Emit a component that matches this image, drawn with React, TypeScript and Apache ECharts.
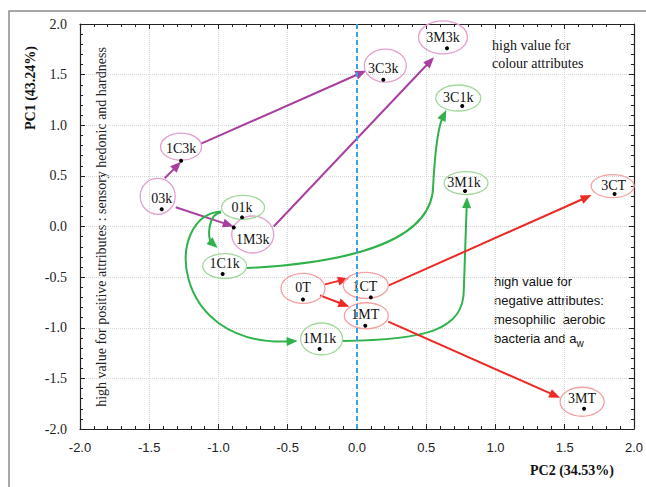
import React, { useEffect, useRef } from 'react';
import * as echarts from 'echarts';

// ---------- data ----------
const sampleNames = ['03k', '1C3k', '3C3k', '1M3k', '3M3k', '01k', '1C1k', '3C1k', '1M1k', '3M1k', '0T', '1CT', '3CT', '1MT', '3MT'];
const sampleGroups = ['3k', '3k', '3k', '3k', '3k', '1k', '1k', '1k', '1k', '1k', 'T', 'T', 'T', 'T', 'T'];
const pc2Scores = [-1.41, -1.27, 0.19, -0.89, 0.65, -0.83, -0.97, 0.76, -0.27, 0.78, -0.39, 0.10, 1.86, 0.06, 1.64];
const pc1Scores = [0.17, 0.65, 1.45, -0.01, 1.76, 0.09, -0.47, 1.19, -1.21, 0.35, -0.72, -0.70, 0.32, -0.98, -1.80];
const axisTickValues = [-2.0, -1.5, -1.0, -0.5, 0.0, 0.5, 1.0, 1.5, 2.0];
const arrowFrom = ['03k', '1C3k', '03k', '1M3k', '01k', '01k', '1C1k', '1M1k', '0T', '0T', '1CT', '1MT'];
const arrowTo = ['1C3k', '3C3k', '1M3k', '3M3k', '1C1k', '1M1k', '3C1k', '3M1k', '1CT', '1MT', '3CT', '3MT'];

// ---------- layout / style ----------
const groupColors: Record<string, { line: string; ring: string }> = {
  '3k': { line: '#a8409f', ring: '#e3a0cf' },
  '1k': { line: '#30b24a', ring: '#a3d89d' },
  T: { line: '#ee2a26', ring: '#f2a2a2' },
};
// label dx, dy, ellipse dx, dy, rx, ry (pixels, relative to the dot)
const labelLayout: Record<string, number[]> = {
  '03k': [0, -11, -4, -13, 17.5, 18],
  '1C3k': [0, -12, 0, -14, 20.5, 13.5],
  '3C3k': [0, -11, 2, -14, 21, 16.5],
  '1M3k': [19, 12, 19, 7, 21, 18.5],
  '3M3k': [-4, -11, -4, -11, 24.5, 16.5],
  '01k': [0, -10, 1, -10, 21.5, 12],
  '1C1k': [2, -11, 2, -8, 22, 12.5],
  '3C1k': [-4, -9, -4, -8, 22.5, 13],
  '1M1k': [0, -11, 2, -10, 21, 16],
  '3M1k': [-1, -9, 1, -8, 22, 11.5],
  '0T': [0, -12, 0, -11, 22, 15],
  '1CT': [-6, -11, -5, -12, 22.5, 13],
  '3CT': [-1, -9, -2, -8, 21.5, 11.5],
  '1MT': [0, -11, 1, -10, 22, 13],
  '3MT': [-2, -10, -2, -7, 22, 14.5],
};
type Seg = { c1?: number[]; c2?: number[]; p?: number[] };
// start / end offsets in px, intermediate control points in data units
const arrowLayout: { start: number[]; end: number[]; segs: Seg[] }[] = [
  { start: [3, -31], end: [0, 1], segs: [] },
  { start: [20, -17], end: [-17, -9], segs: [] },
  { start: [14, -2], end: [0, -1], segs: [] },
  { start: [40, -1], end: [-13, 9], segs: [] },
  { start: [-21, -5], end: [-5, -26], segs: [{ c1: [-1.071, 0.133], c2: [-1.086, -0.114] }] },
  { start: [-21, -6], end: [-22, -8], segs: [{ c1: [-1.393, 0.114], c2: [-1.357, -1.19] }] },
  {
    start: [24, -6], end: [-16, 4],
    segs: [
      { c1: [0.071, -0.351], c2: [0.55, -0.084], p: [0.55, 0.41] },
      { c1: [0.564, 0.756], c2: [0.593, 1.002] },
    ],
  },
  {
    start: [23, -8], end: [2, 6],
    segs: [
      { c1: [0.5, -1.121], c2: [0.771, -1.022], p: [0.771, -0.627] },
      {},
    ],
  },
  { start: [22, -15], end: [-22, -19], segs: [] },
  { start: [17, -4], end: [-16, -19], segs: [] },
  { start: [18, -12], end: [-23, 1], segs: [] },
  { start: [23, -4], end: [-24, -11], segs: [] },
];

const SERIF = '"Liberation Serif", "Times New Roman", serif';
const SANS = '"Liberation Sans", Arial, sans-serif';

export default function App() {
  const ref = useRef<HTMLDivElement>(null);
  useEffect(() => {
    if (!ref.current) return;
    const chart = echarts.init(ref.current, undefined, { renderer: 'svg' });
    const idx = (n: string) => sampleNames.indexOf(n);

    const axisCommon = {
      type: 'value' as const,
      min: -2,
      max: 2,
      interval: 0.5,
      axisLine: { show: true, onZero: false, lineStyle: { color: '#222', width: 1.2 } },
      axisTick: { show: true, inside: true, length: 5, lineStyle: { color: '#222' } },
      minorTick: { show: true, splitNumber: 5, length: 3, lineStyle: { color: '#222' } },
    };

    const option: any = {
      animation: false,
      backgroundColor: '#fff',
      grid: { left: 80, right: 6, top: 24, bottom: 58, containLabel: false },
      xAxis: [
        {
          ...axisCommon,
          position: 'bottom',
          axisLabel: {
            show: true,
            margin: 12,
            color: '#222',
            fontFamily: SANS,
            fontSize: 13,
            formatter: (v: number) => (axisTickValues.includes(v) ? v.toFixed(1) : ''),
          },
          splitLine: { show: true, lineStyle: { color: '#d6d6d6', type: 'dotted', width: 1 } },
        },
        { ...axisCommon, position: 'top', axisLabel: { show: false }, splitLine: { show: false } },
      ],
      yAxis: [
        {
          ...axisCommon,
          position: 'left',
          axisLabel: {
            show: true,
            margin: 13,
            color: '#222',
            fontFamily: SERIF,
            fontSize: 14,
            formatter: (v: number) => (axisTickValues.includes(v) ? v.toFixed(1) : ''),
          },
          splitLine: { show: true, lineStyle: { color: '#d6d6d6', type: 'dotted', width: 1 } },
        },
        { ...axisCommon, position: 'right', axisLabel: { show: false }, splitLine: { show: false } },
      ],
      series: [
        {
          type: 'scatter',
          data: [],
          silent: true,
          markLine: {
            silent: true,
            symbol: 'none',
            label: { show: false },
            lineStyle: { color: '#3d9de0', type: [5, 3], width: 2 },
            data: [{ xAxis: 0 }],
          },
          z: 1,
        },
        {
          type: 'custom',
          name: 'arrows',
          clip: false,
          z: 3,
          encode: { x: [0, 2], y: [1, 3] },
          data: arrowFrom.map((f, i) => [pc2Scores[idx(f)], pc1Scores[idx(f)], pc2Scores[idx(arrowTo[i])], pc1Scores[idx(arrowTo[i])], i]),
          renderItem: (params: any, api: any) => {
            const i = params.dataIndex;
            const lay = arrowLayout[i];
            const color = groupColors[sampleGroups[idx(arrowFrom[i])]].line;
            const s0 = api.coord([api.value(0), api.value(1)]);
            const e0 = api.coord([api.value(2), api.value(3)]);
            const S = [s0[0] + lay.start[0], s0[1] + lay.start[1]];
            const E = [e0[0] + lay.end[0], e0[1] + lay.end[1]];
            const segs: Seg[] = lay.segs.length ? lay.segs : [{}];
            const L = 11, W = 4.5;
            let d = `M${S[0].toFixed(1)},${S[1].toFixed(1)}`;
            let prev = S;
            let dir = [E[0] - S[0], E[1] - S[1]];
            segs.forEach((sg, k) => {
              const last = k === segs.length - 1 && !sg.p;
              let P = sg.p ? api.coord(sg.p) : E;
              const c1 = sg.c1 ? api.coord(sg.c1) : null;
              const c2 = sg.c2 ? api.coord(sg.c2) : null;
              if (last) {
                const from = c2 || prev;
                const dx = E[0] - from[0], dy = E[1] - from[1];
                const len = Math.hypot(dx, dy) || 1;
                dir = [dx / len, dy / len];
                P = [E[0] - dir[0] * L * 0.75, E[1] - dir[1] * L * 0.75];
              }
              if (c1 && c2) {
                d += ` C${c1[0].toFixed(1)},${c1[1].toFixed(1)} ${c2[0].toFixed(1)},${c2[1].toFixed(1)} ${P[0].toFixed(1)},${P[1].toFixed(1)}`;
              } else {
                d += ` L${P[0].toFixed(1)},${P[1].toFixed(1)}`;
              }
              prev = P;
            });
            if (segs[segs.length - 1].p) {
              const dx = E[0] - prev[0], dy = E[1] - prev[1];
              const len = Math.hypot(dx, dy) || 1;
              dir = [dx / len, dy / len];
              const P = [E[0] - dir[0] * L * 0.75, E[1] - dir[1] * L * 0.75];
              d += ` L${P[0].toFixed(1)},${P[1].toFixed(1)}`;
            }
            const B = [E[0] - dir[0] * L, E[1] - dir[1] * L];
            const n = [-dir[1], dir[0]];
            return {
              type: 'group',
              children: [
                { type: 'path', shape: { pathData: d }, style: { stroke: color, lineWidth: 2, fill: 'none' } },
                {
                  type: 'polygon',
                  shape: { points: [E, [B[0] + n[0] * W, B[1] + n[1] * W], [B[0] - n[0] * W, B[1] - n[1] * W]] },
                  style: { fill: color },
                },
              ],
            };
          },
        },
        {
          type: 'custom',
          name: 'samples',
          clip: false,
          z: 4,
          data: sampleNames.map((n, i) => [pc2Scores[i], pc1Scores[i], i]),
          renderItem: (params: any, api: any) => {
            const i = params.dataIndex;
            const name = sampleNames[i];
            const [lx, ly, ex, ey, rx, ry] = labelLayout[name];
            const p = api.coord([api.value(0), api.value(1)]);
            const ring = groupColors[sampleGroups[i]].ring;
            return {
              type: 'group',
              children: [
                { type: 'ellipse', shape: { cx: p[0] + ex, cy: p[1] + ey, rx, ry }, style: { fill: 'none', stroke: ring, lineWidth: 1.3 } },
                {
                  type: 'text',
                  x: p[0] + lx,
                  y: p[1] + ly,
                  style: { text: name, fill: '#111', font: `14px ${SERIF}`, align: 'center', verticalAlign: 'middle' },
                },
                { type: 'circle', shape: { cx: p[0], cy: p[1], r: 2 }, style: { fill: '#000' } },
              ],
            };
          },
        },
      ],
      graphic: [
        { type: 'rect', shape: { x: 9, y: 11, width: 700, height: 600 }, style: { fill: 'none', stroke: '#8c8c8c', lineWidth: 1.5 }, silent: true },
        {
          type: 'text', x: 30, y: 88, rotation: Math.PI / 2,
          style: { text: 'PC1 (43.24%)', font: `bold 14px ${SERIF}`, fill: '#111', align: 'center', verticalAlign: 'middle' },
        },
        {
          type: 'text', x: 572, y: 470,
          style: { text: 'PC2 (34.53%)', font: `bold 14px ${SERIF}`, fill: '#111', align: 'center', verticalAlign: 'middle' },
        },
        {
          type: 'text', x: 101, y: 227, rotation: Math.PI / 2,
          style: { text: 'high value for positive attributes : sensory hedonic and hardness', font: `14px ${SERIF}`, fill: '#222', align: 'center', verticalAlign: 'middle' },
        },
        {
          type: 'text', x: 492, y: 36,
          style: { text: 'high value for\ncolour attributes', font: `14px ${SERIF}`, lineHeight: 18, fill: '#111', align: 'left', verticalAlign: 'top' },
        },
        {
          type: 'text', x: 494, y: 272,
          style: {
            text: 'high value for\nnegative attributes:\nmesophilic  aerobic\nbacteria and a{w|w}',
            font: `13px ${SANS}`, fontFamily: SANS, fontSize: 13, lineHeight: 19, fill: '#111', align: 'left', verticalAlign: 'top',
            rich: { w: { fontSize: 10, fontFamily: SANS, lineHeight: 19, verticalAlign: 'bottom', fill: '#111', padding: [6, 0, 0, 0] } },
          },
        },
      ],
    };
    chart.setOption(option);
    return () => chart.dispose();
  }, []);
  return <div ref={ref} style={{ position: 'fixed', left: 0, top: 0, width: 646, height: 487 }} />;
}
